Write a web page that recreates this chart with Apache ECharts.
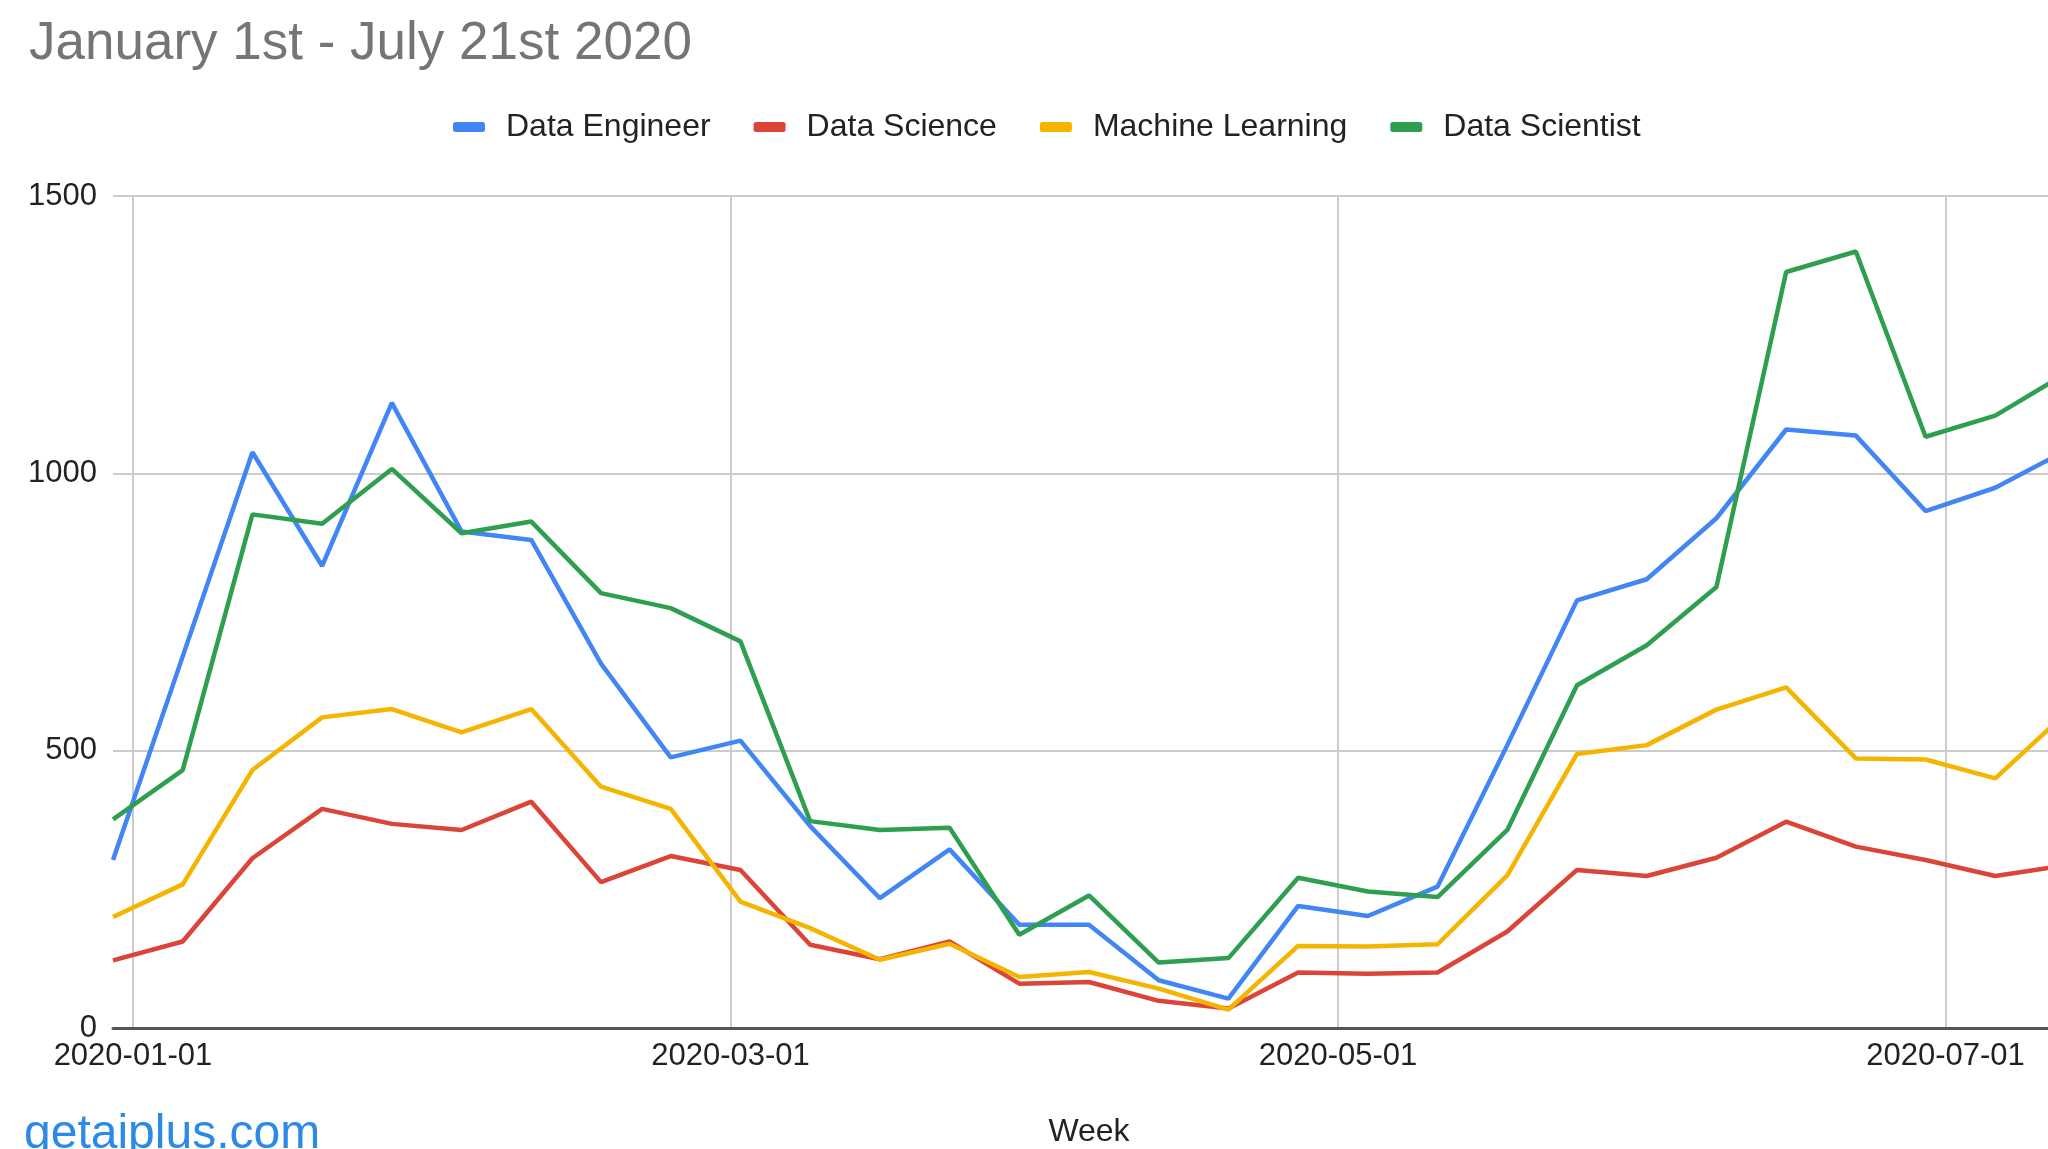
<!DOCTYPE html>
<html>
<head>
<meta charset="utf-8">
<script src="https://cdn.jsdelivr.net/npm/echarts@6/dist/echarts.min.js"></script>
<style>
html,body{margin:0;padding:0;background:#fff;}
#chart{width:2048px;height:1149px;}
</style>
</head>
<body>
<div id="chart"></div>
<script>
const weeks = ['2019-12-30','2020-01-06','2020-01-13','2020-01-20','2020-01-27','2020-02-03','2020-02-10','2020-02-17','2020-02-24','2020-03-02','2020-03-09','2020-03-16','2020-03-23','2020-03-30','2020-04-06','2020-04-13','2020-04-20','2020-04-27','2020-05-04','2020-05-11','2020-05-18','2020-05-25','2020-06-01','2020-06-08','2020-06-15','2020-06-22','2020-06-29','2020-07-06','2020-07-13'];
const dataEngineer    = [303, 670, 1038, 833, 1127, 895, 880, 657, 488, 518, 364, 234, 322, 186, 186, 86, 53, 220, 202, 255, 510, 771, 809, 919, 1079, 1068, 932, 974, 1040];
const dataScience     = [122, 156, 306, 395, 368, 357, 408, 263, 310, 285, 150, 124, 156, 80, 83, 49, 35, 100, 98, 100, 174, 285, 274, 307, 372, 327, 303, 274, 293];
const machineLearning = [200, 259, 465, 560, 575, 533, 575, 435, 395, 228, 180, 123, 152, 92, 101, 71, 33, 148, 147, 151, 275, 494, 510, 574, 614, 486, 484, 450, 566];
const dataScientist   = [376, 465, 926, 909, 1008, 892, 913, 784, 757, 697, 373, 357, 361, 168, 239, 118, 126, 271, 246, 236, 357, 618, 690, 795, 1363, 1400, 1066, 1104, 1179];
const seriesNames = ['Data Engineer', 'Data Science', 'Machine Learning', 'Data Scientist'];
const xTickLabels = ['2020-01-01', '2020-03-01', '2020-05-01', '2020-07-01'];
const titleText = 'January 1st - July 21st 2020';
const sourceText = 'getaiplus.com';
const xAxisName = 'Week';

function toTime(s) {
  const p = s.split('-').map(Number);
  return Date.UTC(p[0], p[1] - 1, p[2]);
}
function pad(n) { return (n < 10 ? '0' : '') + n; }
function fmt(v) {
  const d = new Date(v);
  return d.getUTCFullYear() + '-' + pad(d.getUTCMonth() + 1) + '-' + pad(d.getUTCDate());
}

const colors = ['#4285F4', '#DB4437', '#F4B400', '#2E9E4F'];
const values = [dataEngineer, dataScience, machineLearning, dataScientist];
const tickTimes = xTickLabels.map(toTime);
const FONT = 'Liberation Sans, Arial, sans-serif';

const chart = echarts.init(document.getElementById('chart'));
chart.setOption({
  animation: false,
  backgroundColor: '#ffffff',
  color: colors,
  textStyle: { fontFamily: FONT },
  title: [
    { text: titleText, left: 24, top: 13,
      textStyle: { fontSize: 53, fontWeight: 'normal', color: '#757575', fontFamily: FONT } },
    { text: sourceText, left: 19, top: 1106,
      textStyle: { fontSize: 48, fontWeight: 'normal', color: '#2B8AE6', fontFamily: FONT } }
  ],
  legend: {
    left: 448, top: 106,
    itemWidth: 32, itemHeight: 10, itemGap: 43,
    icon: 'roundRect',
    data: seriesNames,
    textStyle: { fontSize: 32, color: '#222222', padding: [0, 0, 0, 16], fontFamily: FONT }
  },
  grid: { left: 113, top: 196, width: 1952, bottom: 121, containLabel: false, outerBoundsMode: 'none' },
  xAxis: {
    type: 'value',
    min: toTime(weeks[0]),
    max: toTime(weeks[weeks.length - 1]),
    name: xAxisName,
    nameLocation: 'middle',
    nameGap: 88,
    nameTextStyle: { fontSize: 32, color: '#222222', fontFamily: FONT },
    axisLine: { show: true, onZero: false, lineStyle: { color: '#555555', width: 3 } },
    axisTick: { show: false, customValues: tickTimes },
    axisLabel: { customValues: tickTimes, fontSize: 31, color: '#222222', margin: 13, fontFamily: FONT, formatter: function (v) { return fmt(v); } },
    splitLine: { show: true, lineStyle: { color: '#cccccc', width: 2 } }
  },
  yAxis: {
    type: 'value',
    min: 0, max: 1500, interval: 500,
    axisLine: { show: false },
    axisTick: { show: false },
    axisLabel: { fontSize: 31, color: '#222222', margin: 16, fontFamily: FONT, formatter: function (v) { return String(v); } },
    splitLine: { show: true, lineStyle: { color: '#cccccc', width: 2 } }
  },
  series: seriesNames.map(function (name, i) {
    return {
      name: name,
      type: 'line',
      symbol: 'none',
      lineStyle: { width: 4.5, color: colors[i] },
      itemStyle: { color: colors[i] },
      data: weeks.map(function (w, j) { return [toTime(w), values[i][j]]; })
    };
  })
});
</script>
</body>
</html>
